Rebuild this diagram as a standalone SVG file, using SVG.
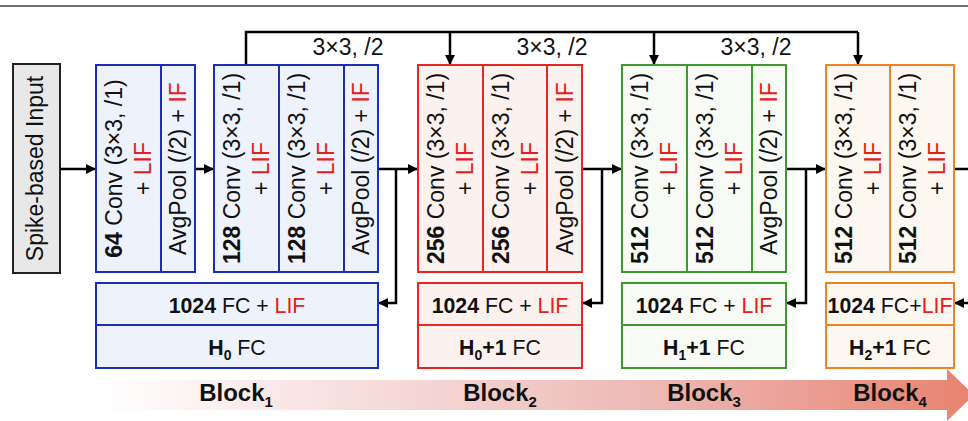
<svg xmlns="http://www.w3.org/2000/svg" width="968" height="421" viewBox="0 0 968 421">
<defs>
<marker id="ah" viewBox="0 0 10 10" refX="9" refY="5" markerWidth="10" markerHeight="10" markerUnits="userSpaceOnUse" orient="auto">
<path d="M0,0 L10,5 L0,10 z" fill="#000"/>
</marker>
<linearGradient id="bar" x1="96" y1="0" x2="975" y2="0" gradientUnits="userSpaceOnUse">
<stop offset="0" stop-color="#ffffff"/>
<stop offset="0.3" stop-color="#f6dedd"/>
<stop offset="0.65" stop-color="#edb6b1"/>
<stop offset="1" stop-color="#e8826f"/>
</linearGradient>
<style>
.t{font-family:"Liberation Sans",Arial,sans-serif;font-size:23px;fill:#111}
.f{font-family:"Liberation Sans",Arial,sans-serif;font-size:21.3px;fill:#111}
.b{font-weight:bold}
.r{fill:#e3201b}
.c{stroke:#000;stroke-width:2.5;fill:none}
.blue{stroke:#1c2fb4;stroke-width:2;fill:#eef2fb}
.red{stroke:#e8281e;stroke-width:2;fill:#fbf1ee}
.green{stroke:#3d9a2c;stroke-width:2;fill:#f7faf5}
.orange{stroke:#f08221;stroke-width:2;fill:#fcf8f1}
.lbl{font-family:"Liberation Sans",Arial,sans-serif;font-size:24px;font-weight:bold;fill:#111}
</style>
</defs>
<rect width="968" height="421" fill="#fff"/>
<line x1="0" y1="6" x2="968" y2="6" stroke="#444" stroke-width="1.5"/>

<g id="bar-arrow">
<polygon points="96,380 947,380 947,369 974,395 947,421 947,410 96,410" fill="url(#bar)"/>
<text class="lbl" x="236" y="401" text-anchor="middle">Block<tspan font-size="15" dy="6">1</tspan></text>
<text class="lbl" x="500" y="401" text-anchor="middle">Block<tspan font-size="15" dy="6">2</tspan></text>
<text class="lbl" x="704" y="401" text-anchor="middle">Block<tspan font-size="15" dy="6">3</tspan></text>
<text class="lbl" x="890" y="401" text-anchor="middle">Block<tspan font-size="15" dy="6">4</tspan></text>
</g>

<g id="input">
<rect x="13" y="64" width="47" height="209" fill="#e8e8e8" stroke="#222" stroke-width="2"/>
<text class="t" x="43" y="168.5" text-anchor="middle" transform="rotate(-90 43 168.5)">Spike-based Input</text>
</g>

<g id="connectors">
<path class="c" d="M60,169 H95" marker-end="url(#ah)"/>
<path class="c" d="M195,169 H213" marker-end="url(#ah)"/>
<path class="c" d="M378,169 H417" marker-end="url(#ah)"/>
<path class="c" d="M396,169 V303 H379" marker-end="url(#ah)"/>
<path class="c" d="M582,169 H621" marker-end="url(#ah)"/>
<path class="c" d="M602,169 V303 H583" marker-end="url(#ah)"/>
<path class="c" d="M786,169 H825" marker-end="url(#ah)"/>
<path class="c" d="M806,169 V303 H787" marker-end="url(#ah)"/>
<path class="c" d="M954,169 H968"/>
<path class="c" d="M968,303 H955" marker-end="url(#ah)"/>
<path class="c" d="M246,65 V32 H858"/>
<path class="c" d="M450,32 V64" marker-end="url(#ah)"/>
<path class="c" d="M654,32 V64" marker-end="url(#ah)"/>
<path class="c" d="M858,32 V64" marker-end="url(#ah)"/>
<text class="t" x="348" y="55" text-anchor="middle">3×3, /2</text>
<text class="t" x="552" y="55" text-anchor="middle">3×3, /2</text>
<text class="t" x="756" y="55" text-anchor="middle">3×3, /2</text>
</g>

<g id="block1-conv64">
<rect class="blue" x="96" y="65" width="99" height="207"/>
<line class="blue" x1="161" y1="65" x2="161" y2="272"/>
<text class="t" x="122" y="168.5" text-anchor="middle" transform="rotate(-90 122 168.5)"><tspan class="b">64</tspan> Conv (3×3, /1)</text>
<text class="t" x="151" y="168.5" text-anchor="middle" transform="rotate(-90 151 168.5)">+ <tspan class="r">LIF</tspan></text>
<text class="t" x="186" y="168.5" text-anchor="middle" transform="rotate(-90 186 168.5)">AvgPool (/2) + <tspan class="r">IF</tspan></text>
</g>

<g id="block1-conv128">
<rect class="blue" x="214" y="65" width="164" height="207"/>
<line class="blue" x1="279" y1="65" x2="279" y2="272"/>
<line class="blue" x1="344" y1="65" x2="344" y2="272"/>
<text class="t" x="240" y="168.5" text-anchor="middle" transform="rotate(-90 240 168.5)"><tspan class="b">128</tspan> Conv (3×3, /1)</text>
<text class="t" x="269" y="168.5" text-anchor="middle" transform="rotate(-90 269 168.5)">+ <tspan class="r">LIF</tspan></text>
<text class="t" x="305" y="168.5" text-anchor="middle" transform="rotate(-90 305 168.5)"><tspan class="b">128</tspan> Conv (3×3, /1)</text>
<text class="t" x="334" y="168.5" text-anchor="middle" transform="rotate(-90 334 168.5)">+ <tspan class="r">LIF</tspan></text>
<text class="t" x="369" y="168.5" text-anchor="middle" transform="rotate(-90 369 168.5)">AvgPool (/2) + <tspan class="r">IF</tspan></text>
</g>

<g id="block1-fc">
<rect class="blue" x="96" y="283" width="282" height="85"/>
<line class="blue" x1="96" y1="325" x2="378" y2="325"/>
<text class="f" x="237" y="313" text-anchor="middle"><tspan class="b">1024</tspan> FC + <tspan class="r">LIF</tspan></text>
<text class="f" x="237" y="355" text-anchor="middle"><tspan class="b">H<tspan font-size="14" dy="5">0</tspan></tspan><tspan dy="-5"> FC</tspan></text>
</g>

<g id="block2-conv">
<rect class="red" x="418" y="65" width="164" height="207"/>
<line class="red" x1="483" y1="65" x2="483" y2="272"/>
<line class="red" x1="547" y1="65" x2="547" y2="272"/>
<text class="t" x="444" y="168.5" text-anchor="middle" transform="rotate(-90 444 168.5)"><tspan class="b">256</tspan> Conv (3×3, /1)</text>
<text class="t" x="473" y="168.5" text-anchor="middle" transform="rotate(-90 473 168.5)">+ <tspan class="r">LIF</tspan></text>
<text class="t" x="509" y="168.5" text-anchor="middle" transform="rotate(-90 509 168.5)"><tspan class="b">256</tspan> Conv (3×3, /1)</text>
<text class="t" x="538" y="168.5" text-anchor="middle" transform="rotate(-90 538 168.5)">+ <tspan class="r">LIF</tspan></text>
<text class="t" x="573" y="168.5" text-anchor="middle" transform="rotate(-90 573 168.5)">AvgPool (/2) + <tspan class="r">IF</tspan></text>
</g>

<g id="block2-fc">
<rect class="red" x="418" y="283" width="164" height="85"/>
<line class="red" x1="418" y1="325" x2="582" y2="325"/>
<text class="f" x="500" y="313" text-anchor="middle"><tspan class="b">1024</tspan> FC + <tspan class="r">LIF</tspan></text>
<text class="f" x="500" y="355" text-anchor="middle"><tspan class="b">H<tspan font-size="14" dy="5">0</tspan><tspan dy="-5">+1</tspan></tspan> FC</text>
</g>

<g id="block3-conv">
<rect class="green" x="622" y="65" width="164" height="207"/>
<line class="green" x1="687" y1="65" x2="687" y2="272"/>
<line class="green" x1="752" y1="65" x2="752" y2="272"/>
<text class="t" x="648" y="168.5" text-anchor="middle" transform="rotate(-90 648 168.5)"><tspan class="b">512</tspan> Conv (3×3, /1)</text>
<text class="t" x="677" y="168.5" text-anchor="middle" transform="rotate(-90 677 168.5)">+ <tspan class="r">LIF</tspan></text>
<text class="t" x="713" y="168.5" text-anchor="middle" transform="rotate(-90 713 168.5)"><tspan class="b">512</tspan> Conv (3×3, /1)</text>
<text class="t" x="742" y="168.5" text-anchor="middle" transform="rotate(-90 742 168.5)">+ <tspan class="r">LIF</tspan></text>
<text class="t" x="777" y="168.5" text-anchor="middle" transform="rotate(-90 777 168.5)">AvgPool (/2) + <tspan class="r">IF</tspan></text>
</g>

<g id="block3-fc">
<rect class="green" x="622" y="283" width="164" height="85"/>
<line class="green" x1="622" y1="325" x2="786" y2="325"/>
<text class="f" x="704" y="313" text-anchor="middle"><tspan class="b">1024</tspan> FC + <tspan class="r">LIF</tspan></text>
<text class="f" x="704" y="355" text-anchor="middle"><tspan class="b">H<tspan font-size="14" dy="5">1</tspan><tspan dy="-5">+1</tspan></tspan> FC</text>
</g>

<g id="block4-conv">
<rect class="orange" x="826" y="65" width="128" height="207"/>
<line class="orange" x1="890" y1="65" x2="890" y2="272"/>
<text class="t" x="852" y="168.5" text-anchor="middle" transform="rotate(-90 852 168.5)"><tspan class="b">512</tspan> Conv (3×3, /1)</text>
<text class="t" x="881" y="168.5" text-anchor="middle" transform="rotate(-90 881 168.5)">+ <tspan class="r">LIF</tspan></text>
<text class="t" x="916" y="168.5" text-anchor="middle" transform="rotate(-90 916 168.5)"><tspan class="b">512</tspan> Conv (3×3, /1)</text>
<text class="t" x="945" y="168.5" text-anchor="middle" transform="rotate(-90 945 168.5)">+ <tspan class="r">LIF</tspan></text>
</g>

<g id="block4-fc">
<rect class="orange" x="826" y="283" width="128" height="85"/>
<line class="orange" x1="826" y1="325" x2="954" y2="325"/>
<text class="f" x="890" y="313" text-anchor="middle"><tspan class="b">1024</tspan> FC+<tspan class="r">LIF</tspan></text>
<text class="f" x="890" y="355" text-anchor="middle"><tspan class="b">H<tspan font-size="14" dy="5">2</tspan><tspan dy="-5">+1</tspan></tspan> FC</text>
</g>
</svg>
